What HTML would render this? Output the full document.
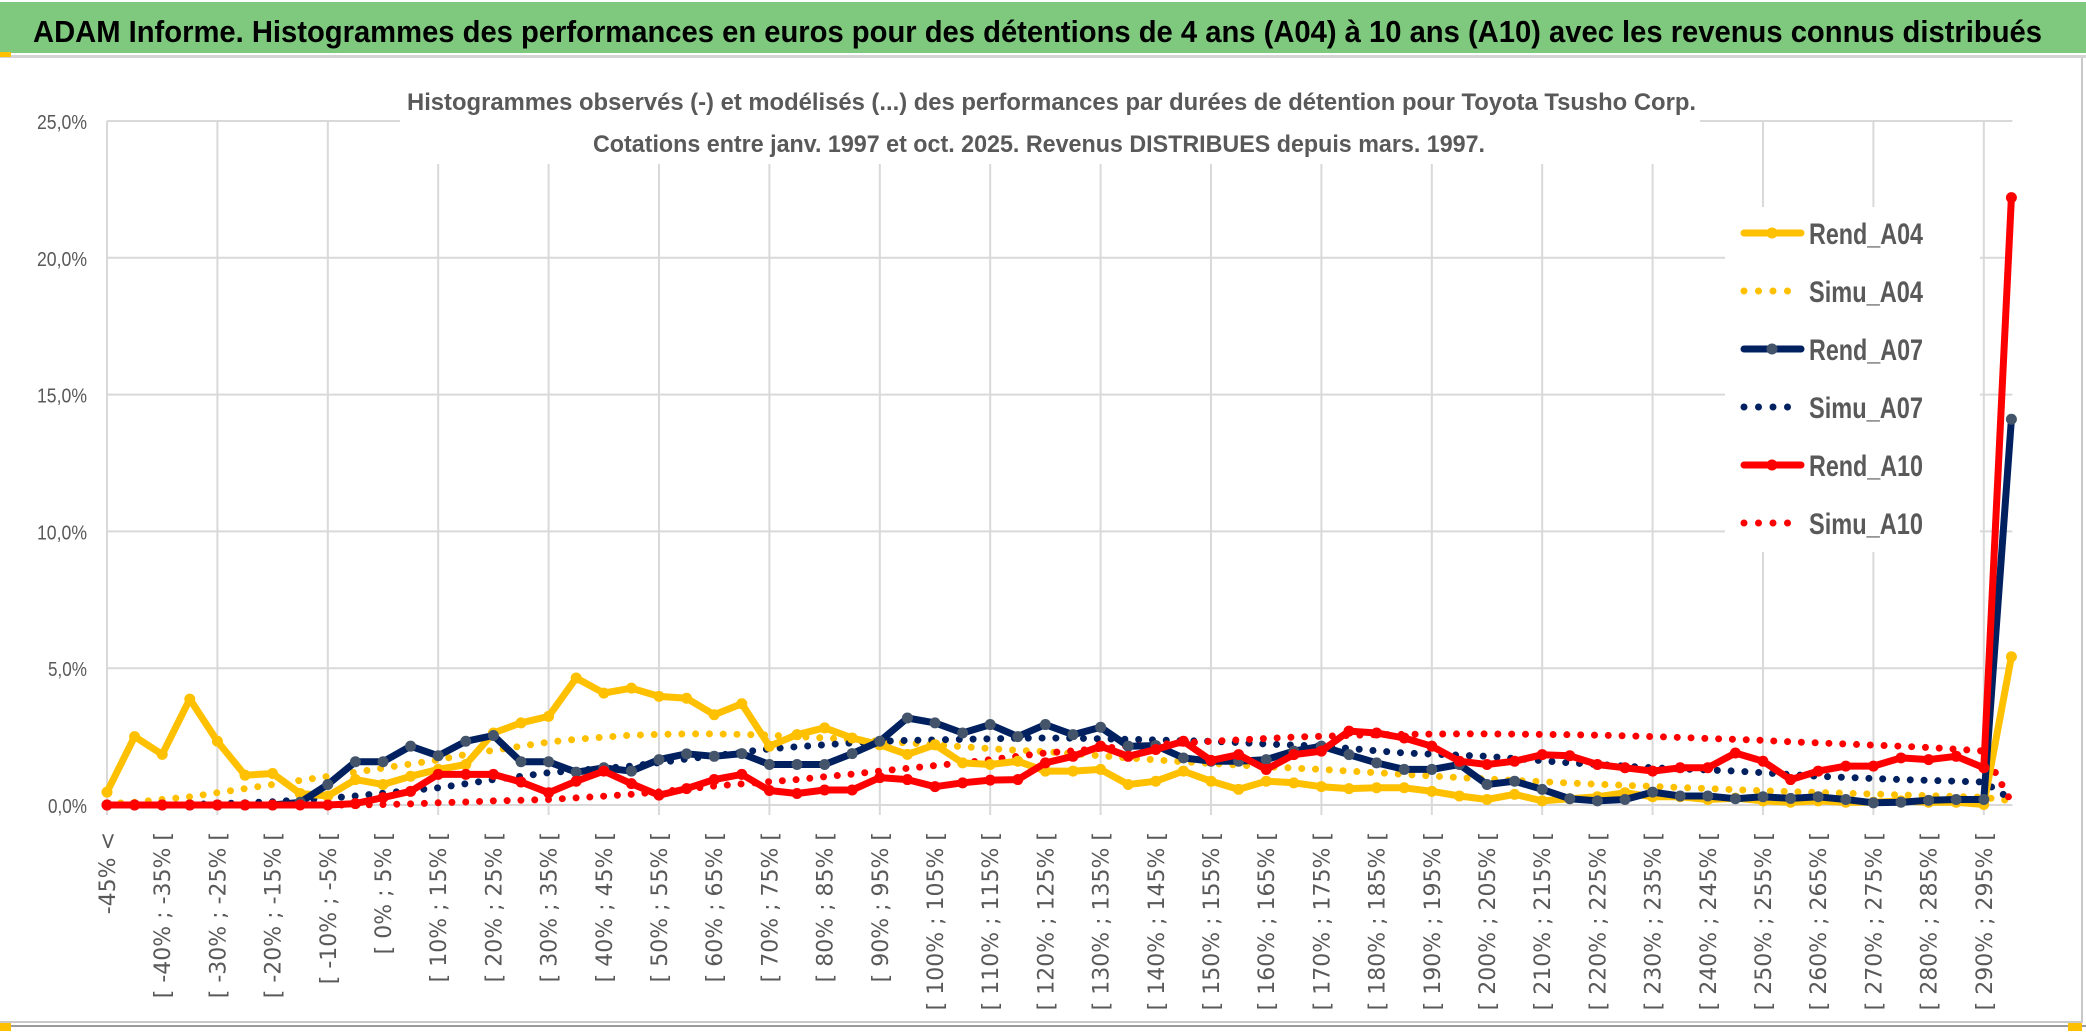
<!DOCTYPE html>
<html><head><meta charset="utf-8">
<style>
html,body{margin:0;padding:0;background:#fff;}
svg{display:block;}
</style></head>
<body>
<svg id="chart" width="2086" height="1033" viewBox="0 0 2086 1033" xmlns="http://www.w3.org/2000/svg">
  <rect x="0" y="0" width="2086" height="1033" fill="#fff"/>
  <rect x="0" y="2" width="2086" height="51" fill="#7fc97f"/>
  <rect x="0" y="55" width="2086" height="3" fill="#d4d4d4"/>
  <text x="33" y="42" font-family="Liberation Sans, sans-serif" font-weight="bold" font-size="31" fill="#000" textLength="2009" lengthAdjust="spacingAndGlyphs">ADAM Informe. Histogrammes des performances en euros pour des détentions de 4 ans (A04) à 10 ans (A10) avec les revenus connus distribués</text>
  <rect x="2081" y="58" width="2" height="965" fill="#c8c8c8"/>
  <rect x="0" y="1021" width="2083" height="2" fill="#c8c8c8"/>
  <rect x="0" y="1025" width="2086" height="2" fill="#9a9a9a"/>
  <rect x="0" y="52" width="11" height="5" fill="#ffc000"/>
  <rect x="0" y="1023" width="11" height="8" fill="#ffc000"/>
  <rect x="2068" y="1023" width="14" height="8" fill="#ffc000"/>
  <g id="grid"></g>
  <rect x="400" y="62" width="1300" height="102" fill="#fff"/>
  <text x="407" y="110" font-family="Liberation Sans, sans-serif" font-size="24" fill="#595959" font-weight="bold" textLength="1289" lengthAdjust="spacingAndGlyphs">Histogrammes observés (-) et modélisés (...) des performances par durées de détention pour Toyota Tsusho Corp.</text>
  <text x="593" y="152" font-family="Liberation Sans, sans-serif" font-size="24" fill="#595959" font-weight="bold" textLength="892" lengthAdjust="spacingAndGlyphs">Cotations entre janv. 1997 et oct. 2025. Revenus DISTRIBUES depuis mars. 1997.</text>
  <g id="yaxis"></g>
  <g id="xaxis"></g>
  <rect x="1725" y="207" width="255" height="345" fill="#fff"/>
  <g id="series"></g>
  <g id="legend"></g>
</svg>
<script>
const yTicks = [0, 5, 10, 15, 20, 25];
const yTickLabels = ["0,0%", "5,0%", "10,0%", "15,0%", "20,0%", "25,0%"];
const rendA04 = [0.47,2.5,1.85,3.87,2.33,1.09,1.15,0.42,0.33,0.93,0.75,1.05,1.3,1.48,2.63,3.0,3.24,4.64,4.09,4.27,3.97,3.9,3.3,3.7,2.15,2.57,2.82,2.45,2.2,1.85,2.2,1.54,1.48,1.6,1.24,1.24,1.3,0.75,0.87,1.24,0.87,0.57,0.87,0.81,0.67,0.6,0.63,0.63,0.5,0.33,0.2,0.39,0.15,0.23,0.3,0.45,0.3,0.3,0.2,0.25,0.15,0.1,0.15,0.1,0.1,0.15,0.1,0.1,0.02,5.42];
const simuA04 = [0.05,0.1,0.2,0.3,0.45,0.6,0.75,0.9,1.05,1.2,1.35,1.5,1.65,1.85,2.0,2.15,2.3,2.4,2.48,2.55,2.58,2.6,2.6,2.58,2.55,2.5,2.45,2.4,2.33,2.27,2.2,2.13,2.06,2.0,1.95,1.88,1.8,1.72,1.65,1.58,1.52,1.46,1.4,1.35,1.3,1.24,1.18,1.12,1.06,1.0,0.95,0.9,0.85,0.8,0.76,0.72,0.68,0.64,0.6,0.56,0.52,0.49,0.46,0.43,0.4,0.37,0.34,0.31,0.28,0.15];
const rendA07 = [0,0,0,0,0,0,0,0.1,0.75,1.58,1.58,2.15,1.8,2.33,2.54,1.58,1.58,1.2,1.36,1.24,1.66,1.87,1.78,1.88,1.48,1.48,1.48,1.88,2.33,3.18,3.0,2.63,2.94,2.5,2.94,2.57,2.84,2.15,2.17,1.72,1.6,1.6,1.66,1.97,2.15,1.84,1.54,1.3,1.3,1.48,0.75,0.87,0.57,0.23,0.15,0.2,0.47,0.33,0.33,0.23,0.3,0.24,0.3,0.2,0.08,0.1,0.17,0.2,0.2,14.1];
const simuA07 = [0,0,0,0.02,0.05,0.08,0.12,0.18,0.25,0.33,0.43,0.53,0.63,0.78,0.93,1.05,1.18,1.26,1.34,1.42,1.55,1.68,1.8,1.93,2.05,2.13,2.2,2.27,2.33,2.36,2.38,2.4,2.42,2.44,2.45,2.44,2.42,2.4,2.38,2.35,2.33,2.28,2.23,2.19,2.15,2.07,1.98,1.9,1.86,1.82,1.78,1.7,1.62,1.54,1.48,1.42,1.36,1.32,1.28,1.24,1.18,1.11,1.05,1.01,0.97,0.93,0.9,0.87,0.84,0.2];
const rendA10 = [0,0,0,0,0,0,0,0,0,0.05,0.27,0.5,1.12,1.12,1.12,0.84,0.45,0.87,1.24,0.78,0.36,0.6,0.93,1.12,0.53,0.42,0.55,0.55,1.0,0.93,0.67,0.81,0.91,0.93,1.54,1.78,2.15,1.78,2.03,2.33,1.63,1.84,1.3,1.84,1.97,2.7,2.63,2.45,2.15,1.6,1.48,1.6,1.84,1.8,1.48,1.36,1.24,1.36,1.36,1.9,1.6,0.93,1.24,1.42,1.42,1.72,1.66,1.78,1.36,22.2];
const simuA10 = [0,0,0,0,0,0,0,0,0,0,0.02,0.04,0.08,0.11,0.15,0.17,0.2,0.26,0.32,0.39,0.48,0.58,0.69,0.77,0.85,0.93,1.03,1.13,1.24,1.34,1.44,1.54,1.66,1.78,1.9,1.98,2.07,2.15,2.21,2.27,2.33,2.38,2.43,2.48,2.51,2.54,2.57,2.58,2.59,2.6,2.6,2.59,2.58,2.57,2.55,2.53,2.5,2.47,2.43,2.4,2.36,2.31,2.27,2.23,2.19,2.15,2.1,2.04,1.97,0.1];
const categories = ["-45% <"];
for (let k = 1; k < rendA04.length; k++) {
  const a = -50 + 5 * k;
  categories.push("[ " + a + "% ; " + (a + 5) + "% [");
}

const NS = "http://www.w3.org/2000/svg";
const X0 = 107, DX = 27.6, Y0 = 805, PXPCT = 27.36;
function xPos(i) { return X0 + DX * i; }
function yPos(v) { return Y0 - v * PXPCT; }
function mk(tag, attrs, parent) {
  const e = document.createElementNS(NS, tag);
  for (const k in attrs) e.setAttribute(k, attrs[k]);
  parent.appendChild(e);
  return e;
}
const grid = document.getElementById('grid');
const yaxis = document.getElementById('yaxis');
const xaxis = document.getElementById('xaxis');
const series = document.getElementById('series');
const legend = document.getElementById('legend');
const n = categories.length;
const xRight = xPos(n - 1) + 1;

yTicks.forEach((t, k) => {
  const l = mk('line', {x1: X0, x2: xRight, y1: yPos(t), y2: yPos(t), stroke: '#d9d9d9', 'stroke-width': 2}, grid);
  
  
  const tx = mk('text', {x: 87, y: yPos(t) + 8, 'text-anchor': 'end', 'font-family': 'Liberation Sans, sans-serif', 'font-size': 20, fill: '#595959', textLength: 11 * yTickLabels[k].length - 5, lengthAdjust: 'spacingAndGlyphs'}, yaxis);
  tx.textContent = yTickLabels[k];
  
  
});
for (let i = 0; i < n; i += 4) {
  const l = mk('line', {x1: xPos(i), x2: xPos(i), y1: yPos(25), y2: Y0 + 10, stroke: '#d9d9d9', 'stroke-width': 2}, grid);
  
  
}
for (let i = 0; i < n; i += 2) {
  const x = xPos(i) + 8;
  const tx = mk('text', {x: x, y: 832, transform: 'rotate(-90 ' + x + ' 832)', 'text-anchor': 'end', 'font-family': 'DejaVu Sans, sans-serif', 'font-size': 22, fill: '#595959'}, xaxis);
  tx.textContent = categories[i];
  
  
}

function pts(arr) { return arr.map((v, i) => xPos(i).toFixed(1) + ',' + yPos(v).toFixed(1)).join(' '); }
function dotted(arr, color, name) {
  const p = mk('polyline', {points: pts(arr), fill: 'none', stroke: color, 'stroke-width': 7, 'stroke-linecap': 'round', 'stroke-dasharray': '0 13.8'}, series);
  
  
}
function solid(arr, color, mcolor, name) {
  const p = mk('polyline', {points: pts(arr), fill: 'none', stroke: color, 'stroke-width': 7, 'stroke-linejoin': 'round'}, series);
  
  
  arr.forEach((v, i) => {
    const c = mk('circle', {cx: xPos(i), cy: yPos(v), r: 5.5, fill: mcolor}, series);
    
    
  });
}
dotted(simuA04, '#ffc000', 'simu-a04-line');
dotted(simuA07, '#002060', 'simu-a07-line');
dotted(simuA10, '#ff0000', 'simu-a10-line');
solid(rendA04, '#ffc000', '#ffc000', 'rend-a04-line');
solid(rendA07, '#002060', '#44546a', 'rend-a07-line');
solid(rendA10, '#ff0000', '#ff0000', 'rend-a10-line');

const legNames = ["Rend_A04", "Simu_A04", "Rend_A07", "Simu_A07", "Rend_A10", "Simu_A10"];
const legColors = ["#ffc000", "#ffc000", "#002060", "#002060", "#ff0000", "#ff0000"];
const legMarker = ["#ffc000", null, "#44546a", null, "#ff0000", null];
legNames.forEach((nm, k) => {
  const y = 233 + k * 58;
  const g = mk('g', {}, legend);
  
  
  if (legMarker[k]) {
    mk('line', {x1: 1744, x2: 1801, y1: y, y2: y, stroke: legColors[k], 'stroke-width': 7, 'stroke-linecap': 'round'}, g);
    mk('circle', {cx: 1772, cy: y, r: 5.5, fill: legMarker[k]}, g);
  } else {
    mk('line', {x1: 1744, x2: 1802, y1: y, y2: y, stroke: legColors[k], 'stroke-width': 7, 'stroke-linecap': 'round', 'stroke-dasharray': '0 14.5'}, g);
  }
  const t = mk('text', {x: 1809, y: y + 11, 'font-family': 'Liberation Sans, sans-serif', 'font-weight': 'bold', 'font-size': 30, fill: '#595959', textLength: 114, lengthAdjust: 'spacingAndGlyphs'}, g);
  t.textContent = nm;
});
</script>
</body></html>
